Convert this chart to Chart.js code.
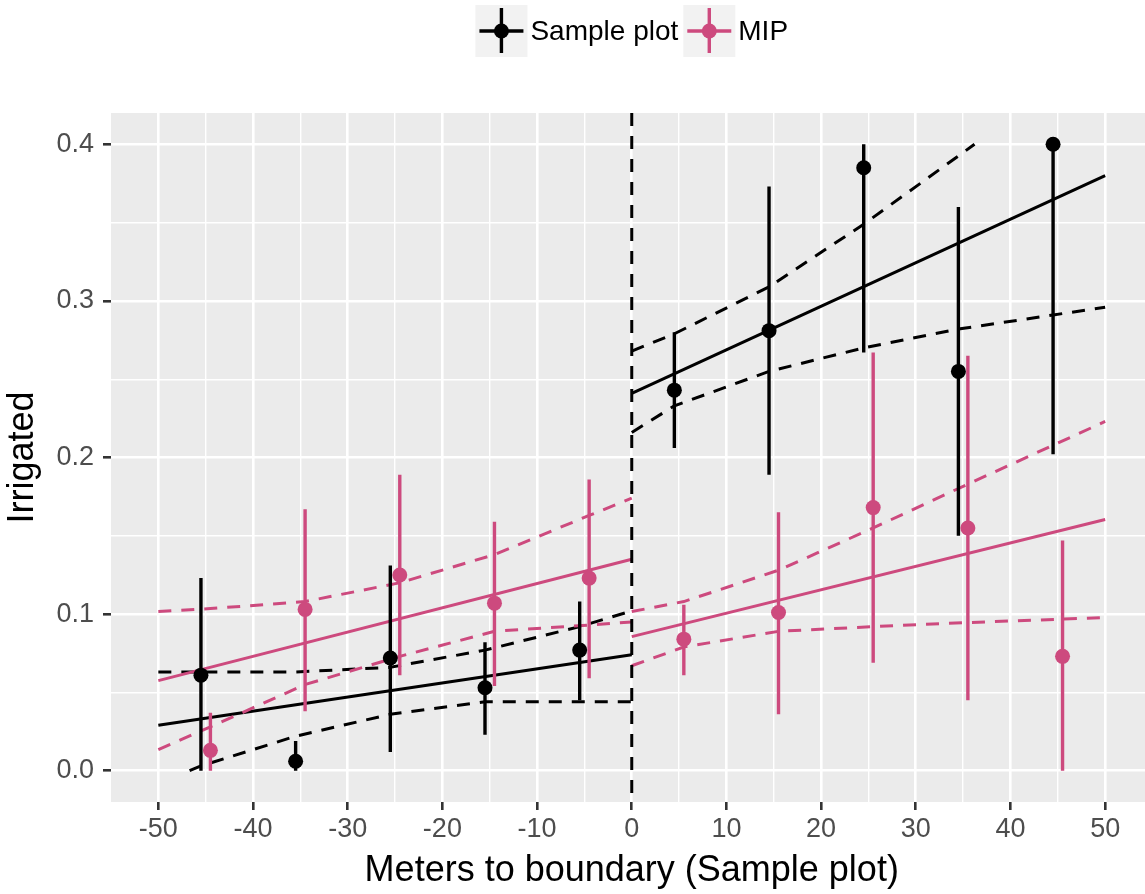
<!DOCTYPE html>
<html>
<head>
<meta charset="utf-8">
<script src="https://cdn.jsdelivr.net/npm/chart.js@4.4.1/dist/chart.umd.min.js"></script>
<style>
html, body { margin: 0; padding: 0; background: #fff; overflow: hidden; }
#wrap { width: 1160px; height: 894px; }
</style>
</head>
<body>
<div id="wrap"><canvas id="chartBoundary" width="1160" height="894"></canvas></div>
<script>
// binned means with intervals
const sample_x = [-45.5, -35.5, -25.5, -15.5, -5.5, 4.5, 14.5, 24.5, 34.5, 44.5];
const sample_y = [0.061, 0.006, 0.072, 0.053, 0.077, 0.243, 0.281, 0.385, 0.255, 0.400];
const sample_lo = [0.0, 0.0, 0.012, 0.023, 0.045, 0.206, 0.189, 0.267, 0.150, 0.202];
const sample_hi = [0.123, 0.019, 0.131, 0.082, 0.108, 0.280, 0.373, 0.400, 0.360, 0.400];

const mip_x = [-44.5, -34.5, -24.5, -14.5, -4.5, 5.5, 15.5, 25.5, 35.5, 45.5];
const mip_y = [0.013, 0.103, 0.125, 0.107, 0.123, 0.084, 0.101, 0.168, 0.155, 0.073];
const mip_lo = [0.0, 0.038, 0.061, 0.054, 0.059, 0.061, 0.036, 0.069, 0.045, 0.0];
const mip_hi = [0.037, 0.167, 0.189, 0.159, 0.186, 0.106, 0.165, 0.267, 0.265, 0.147];

// linear fits on each side of the boundary
const fit_x_left = [-50, 0];
const fit_x_right = [0, 50];
const sample_fit_left = [0.029, 0.074];
const sample_fit_right = [0.241, 0.380];
const mip_fit_left = [0.0575, 0.135];
const mip_fit_right = [0.0856, 0.1604];

// confidence bands (dashed)
const sample_ci_up_left_x = [-50, -45.5, -35.5, -25.5, -15.5, -5.5, 0];
const sample_ci_up_left = [0.063, 0.063, 0.063, 0.066, 0.077, 0.092, 0.102];
const sample_ci_lo_left_x = [-46.7, -45.5, -35.5, -25.5, -15.5, -5.5, 0];
const sample_ci_lo_left = [0.0, 0.003, 0.022, 0.036, 0.044, 0.044, 0.044];
const sample_ci_up_right_x = [0, 4.5, 14.5, 24.5, 36.2];
const sample_ci_up_right = [0.268, 0.279, 0.309, 0.349, 0.400];
const sample_ci_lo_right_x = [0, 4.5, 14.5, 24.5, 34.5, 44.5, 50];
const sample_ci_lo_right = [0.216, 0.233, 0.255, 0.270, 0.282, 0.291, 0.296];

const mip_ci_left_x = [-50, -44.5, -34.5, -24.5, -14.5, -4.5, 0];
const mip_ci_up_left = [0.1016, 0.1035, 0.108, 0.120, 0.138, 0.163, 0.174];
const mip_ci_lo_left = [0.0134, 0.028, 0.055, 0.073, 0.089, 0.093, 0.095];
const mip_ci_right_x = [0, 5.5, 15.5, 25.5, 35.5, 50];
const mip_ci_up_right = [0.1016, 0.108, 0.128, 0.155, 0.183, 0.223];
const mip_ci_lo_right = [0.067, 0.079, 0.089, 0.092, 0.0946, 0.0978];

const boundary = 0;

// axes
const x_major = [-50, -40, -30, -20, -10, 0, 10, 20, 30, 40, 50];
const x_labels = ['-50', '-40', '-30', '-20', '-10', '0', '10', '20', '30', '40', '50'];
const x_minor = [-45, -35, -25, -15, -5, 5, 15, 25, 35, 45];
const y_major = [0, 0.1, 0.2, 0.3, 0.4];
const y_labels = ['0.0', '0.1', '0.2', '0.3', '0.4'];
const y_minor = [0.05, 0.15, 0.25, 0.35];

const legend_labels = ['Sample plot', 'MIP'];
const BLACK = '#000000';
const PINK = '#CD4A7E';
const FONT = '"Liberation Sans", Arial, Helvetica, sans-serif';
const DASH = [13, 10];

const pts = (xs, ys) => xs.map((x, i) => ({ x: x, y: ys[i] }));
const bars = (xs, lo, hi) => {
    const out = [];
    xs.forEach((x, i) => {
        out.push({ x: x, y: lo[i] }, { x: x, y: hi[i] }, { x: x, y: null });
    });
    return out;
};

const lineSet = (data, color, dashed, order) => ({
    type: 'line',
    data: data,
    borderColor: color,
    backgroundColor: color,
    borderWidth: 3,
    borderDash: dashed ? DASH : [],
    pointRadius: 0,
    pointHoverRadius: 0,
    fill: false,
    tension: 0,
    spanGaps: false,
    order: order
});

const panelBg = {
    id: 'panelBg',
    beforeDraw(chart) {
        const a = chart.chartArea;
        const ctx = chart.ctx;
        ctx.save();
        ctx.fillStyle = '#EBEBEB';
        ctx.fillRect(a.left, a.top, a.right - a.left, a.bottom - a.top);
        ctx.restore();
    }
};

const boundaryLine = {
    id: 'boundaryLine',
    afterDatasetsDraw(chart) {
        const a = chart.chartArea;
        const ctx = chart.ctx;
        const px = chart.scales.x.getPixelForValue(boundary);
        ctx.save();
        ctx.strokeStyle = BLACK;
        ctx.lineWidth = 3;
        ctx.setLineDash(DASH);
        ctx.beginPath();
        ctx.moveTo(px, a.top);
        ctx.lineTo(px, a.bottom);
        ctx.stroke();
        ctx.restore();
    }
};

const keyLegend = {
    id: 'keyLegend',
    afterDraw(chart) {
        const ctx = chart.ctx;
        const a = chart.chartArea;
        const colors = [BLACK, PINK];
        const key = 52, cy = 31;
        ctx.save();
        ctx.font = '28px ' + FONT;
        const widths = legend_labels.map(t => ctx.measureText(t).width);
        const total = widths.reduce((s, w) => s + key + 3 + w, 0) + 5;
        let x = (a.left + a.right) / 2 - total / 2;
        legend_labels.forEach((t, i) => {
            ctx.fillStyle = '#F2F2F2';
            ctx.fillRect(x, cy - 26, key, key);
            const cx = x + key / 2;
            ctx.strokeStyle = colors[i];
            ctx.lineWidth = 3.4;
            ctx.beginPath();
            ctx.moveTo(x + 4, cy);
            ctx.lineTo(x + key - 4, cy);
            ctx.moveTo(cx, cy - 23);
            ctx.lineTo(cx, cy + 22);
            ctx.stroke();
            ctx.fillStyle = colors[i];
            ctx.beginPath();
            ctx.arc(cx, cy, 7.5, 0, Math.PI * 2);
            ctx.fill();
            ctx.fillStyle = '#000000';
            ctx.textBaseline = 'middle';
            ctx.textAlign = 'left';
            ctx.fillText(t, x + key + 3, cy + 1);
            x += key + 3 + widths[i] + 5;
        });
        ctx.restore();
    }
};

const ctx1 = document.getElementById('chartBoundary').getContext('2d');
const chartBoundary = new Chart(ctx1, {
    type: 'scatter',
    data: {
        datasets: [
            {
                type: 'scatter',
                label: 'Sample plot',
                data: pts(sample_x, sample_y),
                backgroundColor: BLACK,
                borderColor: BLACK,
                borderWidth: 0,
                pointRadius: 7.5,
                pointHoverRadius: 7.5,
                order: 1
            },
            {
                type: 'scatter',
                label: 'MIP',
                data: pts(mip_x, mip_y),
                backgroundColor: PINK,
                borderColor: PINK,
                borderWidth: 0,
                pointRadius: 7.5,
                pointHoverRadius: 7.5,
                order: 2
            },
            Object.assign(lineSet(bars(sample_x, sample_lo, sample_hi), BLACK, false, 3), { borderWidth: 3.4 }),
            Object.assign(lineSet(bars(mip_x, mip_lo, mip_hi), PINK, false, 4), { borderWidth: 3.4 }),
            lineSet(pts(fit_x_left, mip_fit_left), PINK, false, 5),
            lineSet(pts(fit_x_right, mip_fit_right), PINK, false, 5),
            lineSet(pts(mip_ci_left_x, mip_ci_up_left), PINK, true, 6),
            lineSet(pts(mip_ci_left_x, mip_ci_lo_left), PINK, true, 6),
            lineSet(pts(mip_ci_right_x, mip_ci_up_right), PINK, true, 6),
            lineSet(pts(mip_ci_right_x, mip_ci_lo_right), PINK, true, 6),
            lineSet(pts(fit_x_left, sample_fit_left), BLACK, false, 7),
            lineSet(pts(fit_x_right, sample_fit_right), BLACK, false, 7),
            lineSet(pts(sample_ci_up_left_x, sample_ci_up_left), BLACK, true, 8),
            lineSet(pts(sample_ci_lo_left_x, sample_ci_lo_left), BLACK, true, 8),
            lineSet(pts(sample_ci_up_right_x, sample_ci_up_right), BLACK, true, 8),
            lineSet(pts(sample_ci_lo_right_x, sample_ci_lo_right), BLACK, true, 8)
        ]
    },
    options: {
        responsive: false,
        animation: false,
        events: [],
        layout: { padding: { top: 113, right: 7, bottom: 0, left: 0 } },
        plugins: {
            legend: { display: false },
            tooltip: { enabled: false }
        },
        scales: {
            x: {
                type: 'linear',
                min: -55,
                max: 55,
                afterBuildTicks: (scale) => {
                    scale.ticks = x_major.concat(x_minor).sort((a, b) => a - b).map(v => ({ value: v }));
                },
                afterFit: (scale) => { scale.height = 92; },
                ticks: {
                    autoSkip: false,
                    maxRotation: 0,
                    minRotation: 0,
                    padding: 3,
                    color: '#4D4D4D',
                    font: { family: FONT, size: 27 },
                    callback: (v) => x_major.includes(v) ? x_labels[x_major.indexOf(v)] : ''
                },
                grid: {
                    color: '#FFFFFF',
                    lineWidth: (c) => x_major.includes(c.tick.value) ? 2.6 : 1.4,
                    drawTicks: true,
                    tickLength: 8,
                    tickWidth: 2.6,
                    tickColor: (c) => x_major.includes(c.tick.value) ? '#333333' : 'rgba(0,0,0,0)'
                },
                border: { display: false },
                title: {
                    display: true,
                    text: 'Meters to boundary (Sample plot)',
                    color: '#000000',
                    font: { family: FONT, size: 36 },
                    padding: { top: 0, bottom: 1 }
                }
            },
            y: {
                type: 'linear',
                min: -0.02,
                max: 0.42,
                afterBuildTicks: (scale) => {
                    scale.ticks = y_major.concat(y_minor).sort((a, b) => a - b).map(v => ({ value: v }));
                },
                afterFit: (scale) => { scale.width = 111; },
                ticks: {
                    autoSkip: false,
                    padding: 9,
                    color: '#4D4D4D',
                    font: { family: FONT, size: 27 },
                    callback: (v) => y_major.includes(v) ? y_labels[y_major.indexOf(v)] : ''
                },
                grid: {
                    color: '#FFFFFF',
                    lineWidth: (c) => y_major.includes(c.tick.value) ? 2.6 : 1.4,
                    drawTicks: true,
                    tickLength: 8,
                    tickWidth: 2.6,
                    tickColor: (c) => y_major.includes(c.tick.value) ? '#333333' : 'rgba(0,0,0,0)'
                },
                border: { display: false },
                title: {
                    display: true,
                    text: 'Irrigated',
                    color: '#000000',
                    font: { family: FONT, size: 36 },
                    padding: { top: 1.5, bottom: 0 }
                }
            }
        }
    },
    plugins: [panelBg, boundaryLine, keyLegend]
});
</script>
</body>
</html>
